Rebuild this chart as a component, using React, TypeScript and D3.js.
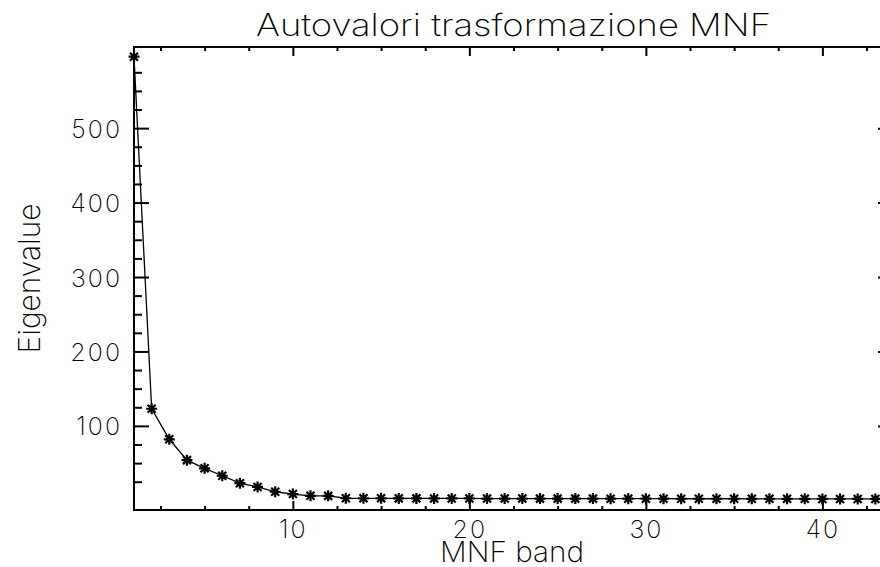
import React, { useRef, useEffect } from 'react';
import * as d3 from 'd3';

// eigenvalues, band 1..44
const eigenvalues = [
  596, 123, 82, 54, 43, 33, 23, 18, 11.5, 8.4,
  6.1, 6.0, 2.8, 2.7, 2.7, 2.6, 2.6, 2.5, 2.5, 2.5,
  2.4, 2.4, 2.4, 2.3, 2.3, 2.3, 2.3, 2.2, 2.2, 2.2,
  2.2, 2.1, 2.1, 2.1, 2.1, 2.0, 2.0, 2.0, 2.0, 1.9,
  1.9, 1.9, 1.9, 1.8,
];
const bands = eigenvalues.map((_, i) => i + 1);

const xMajor = [10, 20, 30, 40];
const xMinor = [2.5, 5, 7.5, 12.5, 15, 17.5, 22.5, 25, 27.5, 32.5, 35, 37.5, 42.5];
const yMajor = [100, 200, 300, 400, 500];
const yMinor = [25, 50, 75, 125, 150, 175, 225, 250, 275, 325, 350, 375, 425, 450, 475, 525, 550, 575];

const title = 'Autovalori trasformazione MNF';
const xTitle = 'MNF band';
const yTitle = 'Eigenvalue';

const width = 880;
const height = 567;

const App = () => {
  const svgRef = useRef<SVGSVGElement>(null);

  useEffect(() => {
    const svg = d3.select(svgRef.current);
    svg.selectAll('*').remove();

    const left = 134, right = 893, top = 47, bottom = 510;
    const font = 'Inter, "DejaVu Sans", sans-serif';

    const xScale = d3.scaleLinear().domain([1, 44]).range([left, right]);
    const yScale = d3.scaleLinear().domain([-13, 609]).range([bottom, top]);

    const g = svg.append('g');

    // frame
    g.append('rect')
      .attr('x', left).attr('y', top)
      .attr('width', right - left).attr('height', bottom - top)
      .attr('fill', 'none').attr('stroke', '#000').attr('stroke-width', 2);

    const styleAxis = (sel, labels) => {
      sel.select('.domain').remove();
      sel.selectAll('line').attr('stroke', '#000').attr('stroke-width', 2);
      if (!labels) sel.selectAll('text').remove();
    };

    // bottom axis
    const bx = g.append('g').attr('transform', `translate(0,${bottom})`)
      .call(d3.axisBottom(xScale).tickValues(xMajor).tickSize(-9).tickSizeOuter(0).tickFormat(d3.format('d')));
    styleAxis(bx, true);
    bx.selectAll('text')
      .attr('y', 28).attr('dy', 0)
      .attr('font-family', font).attr('font-weight', 200)
      .attr('font-size', 25).attr('letter-spacing', 2).attr('fill', '#000');
    const bxm = g.append('g').attr('transform', `translate(0,${bottom})`)
      .call(d3.axisBottom(xScale).tickValues(xMinor).tickSize(-4).tickSizeOuter(0));
    styleAxis(bxm, false);

    // top axis
    const tx = g.append('g').attr('transform', `translate(0,${top})`)
      .call(d3.axisTop(xScale).tickValues(xMajor).tickSize(-9).tickSizeOuter(0));
    styleAxis(tx, false);
    const txm = g.append('g').attr('transform', `translate(0,${top})`)
      .call(d3.axisTop(xScale).tickValues(xMinor).tickSize(-4).tickSizeOuter(0));
    styleAxis(txm, false);

    // left axis
    const ly = g.append('g').attr('transform', `translate(${left},0)`)
      .call(d3.axisLeft(yScale).tickValues(yMajor).tickSize(-15).tickSizeOuter(0).tickFormat(d3.format('d')));
    styleAxis(ly, true);
    ly.selectAll('text')
      .attr('x', -12).attr('dy', '0.36em')
      .attr('font-family', font).attr('font-weight', 200)
      .attr('font-size', 25).attr('letter-spacing', 2).attr('fill', '#000');
    const lym = g.append('g').attr('transform', `translate(${left},0)`)
      .call(d3.axisLeft(yScale).tickValues(yMinor).tickSize(-8).tickSizeOuter(0));
    styleAxis(lym, false);

    // right axis
    const ry = g.append('g').attr('transform', `translate(${right},0)`)
      .call(d3.axisRight(yScale).tickValues(yMajor).tickSize(-15).tickSizeOuter(0));
    styleAxis(ry, false);
    const rym = g.append('g').attr('transform', `translate(${right},0)`)
      .call(d3.axisRight(yScale).tickValues(yMinor).tickSize(-8).tickSizeOuter(0));
    styleAxis(rym, false);

    // data line
    const line = d3.line<number>()
      .x((d, i) => xScale(bands[i]))
      .y(d => yScale(d));
    g.append('path')
      .datum(eigenvalues)
      .attr('d', line)
      .attr('fill', 'none').attr('stroke', '#000').attr('stroke-width', 1.3);

    // IDL-like asterisk markers (+ and x)
    const r = 5.5, dd = 4;
    const star = `M${-r},0L${r},0M0,${-r}L0,${r}M${-dd},${-dd}L${dd},${dd}M${-dd},${dd}L${dd},${-dd}`;
    g.selectAll('path.pt')
      .data(eigenvalues)
      .join('path')
      .attr('class', 'pt')
      .attr('transform', (d, i) => `translate(${xScale(bands[i])},${yScale(d)})`)
      .attr('d', star)
      .attr('fill', 'none').attr('stroke', '#000').attr('stroke-width', 2.2);

    // titles
    const cx = (left + right) / 2;
    g.append('text')
      .attr('x', cx).attr('y', 36)
      .attr('text-anchor', 'middle')
      .attr('textLength', 515).attr('lengthAdjust', 'spacingAndGlyphs')
      .attr('font-family', font).attr('font-weight', 200).attr('font-size', 31)
      .text(title);
    g.append('text')
      .attr('x', 512).attr('y', 562)
      .attr('text-anchor', 'middle')
      .attr('textLength', 144).attr('lengthAdjust', 'spacingAndGlyphs')
      .attr('font-family', font).attr('font-weight', 200).attr('font-size', 29)
      .text(xTitle);
    g.append('text')
      .attr('transform', `translate(40,${(top + bottom) / 2}) rotate(-90)`)
      .attr('text-anchor', 'middle')
      .attr('textLength', 150).attr('lengthAdjust', 'spacingAndGlyphs')
      .attr('font-family', font).attr('font-weight', 200).attr('font-size', 30)
      .text(yTitle);
  }, []);

  return (
    <svg ref={svgRef} width={width} height={height}
      style={{ position: 'absolute', left: 0, top: 0, background: '#fff' }}></svg>
  );
};

export default App;
